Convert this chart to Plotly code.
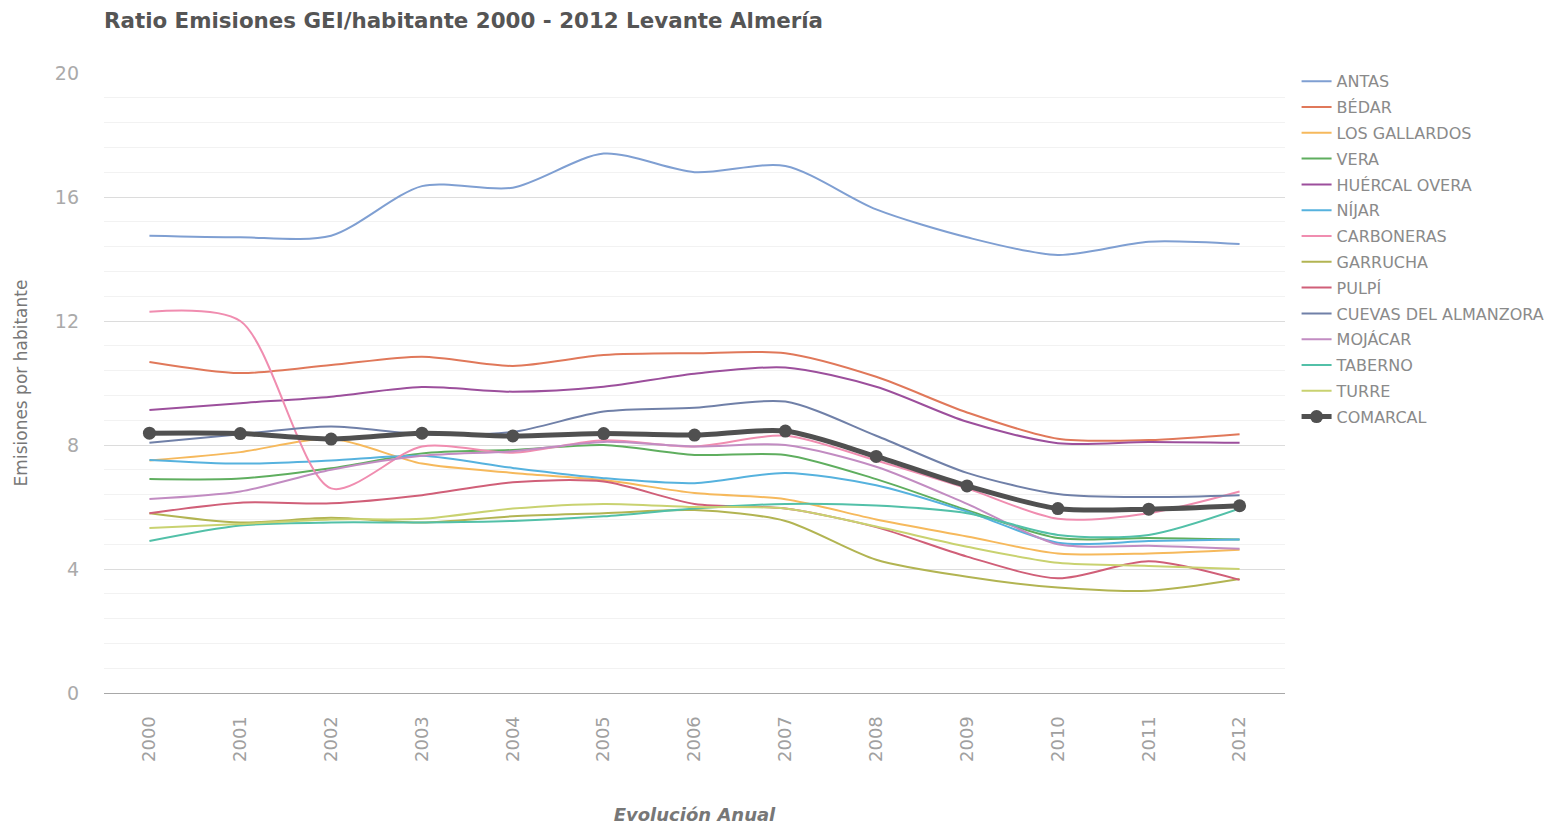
import plotly.graph_objects as go

years = ["2000", "2001", "2002", "2003", "2004", "2005", "2006",
         "2007", "2008", "2009", "2010", "2011", "2012"]

antas = [14.75, 14.7, 14.75, 16.35, 16.3, 17.4, 16.8, 17.0, 15.6, 14.7, 14.13, 14.56, 14.48]
bedar = [10.68, 10.32, 10.58, 10.85, 10.55, 10.9, 10.96, 10.96, 10.2, 9.05, 8.2, 8.16, 8.35]
los_gallardos = [7.5, 7.77, 8.2, 7.4, 7.1, 6.87, 6.45, 6.25, 5.6, 5.05, 4.5, 4.5, 4.62]
vera = [6.9, 6.92, 7.25, 7.73, 7.84, 8.0, 7.68, 7.68, 6.9, 5.9, 5.0, 5.0, 4.95]
huercal_overa = [9.13, 9.35, 9.56, 9.87, 9.72, 9.88, 10.3, 10.5, 9.88, 8.75, 8.06, 8.1, 8.07]
nijar = [7.52, 7.4, 7.5, 7.65, 7.26, 6.93, 6.77, 7.1, 6.7, 5.85, 4.85, 4.9, 4.95]
carboneras = [12.3, 12.0, 6.6, 7.95, 7.75, 8.15, 7.95, 8.3, 7.5, 6.6, 5.62, 5.8, 6.5]
garrucha = [5.8, 5.5, 5.65, 5.5, 5.7, 5.8, 5.9, 5.55, 4.3, 3.75, 3.4, 3.3, 3.68]
pulpi = [5.8, 6.14, 6.12, 6.38, 6.8, 6.82, 6.1, 5.95, 5.35, 4.4, 3.7, 4.25, 3.65]
cuevas = [8.07, 8.35, 8.6, 8.35, 8.42, 9.08, 9.2, 9.4, 8.3, 7.1, 6.42, 6.32, 6.38]
mojacar = [6.26, 6.5, 7.2, 7.65, 7.8, 8.1, 7.95, 8.0, 7.3, 6.1, 4.8, 4.75, 4.65]
taberno = [4.9, 5.4, 5.5, 5.5, 5.55, 5.7, 5.95, 6.1, 6.05, 5.8, 5.1, 5.1, 5.95]
turre = [5.32, 5.45, 5.6, 5.62, 5.95, 6.1, 6.0, 5.95, 5.37, 4.72, 4.2, 4.1, 4.0]
comarcal = [8.38, 8.37, 8.19, 8.38, 8.29, 8.37, 8.32, 8.45, 7.63, 6.68, 5.95, 5.93, 6.04]

series_names = ["ANTAS", "BÉDAR", "LOS GALLARDOS", "VERA", "HUÉRCAL OVERA", "NÍJAR",
                "CARBONERAS", "GARRUCHA", "PULPÍ", "CUEVAS DEL ALMANZORA", "MOJÁCAR",
                "TABERNO", "TURRE"]
series_values = [antas, bedar, los_gallardos, vera, huercal_overa, nijar, carboneras,
                 garrucha, pulpi, cuevas, mojacar, taberno, turre]
series_colors = ["#7f9fd2", "#e0785a", "#f6b95c", "#5fae5f", "#9c4f9c", "#56b2de",
                 "#f08db0", "#b2b452", "#d05f78", "#7080a8", "#c28cc2", "#52c0a8", "#c9d270"]

FONT = "DejaVu Sans, Verdana, sans-serif"

fig = go.Figure()
for i, (name, vals, col) in enumerate(zip(series_names, series_values, series_colors)):
    fig.add_trace(go.Scatter(
        x=years, y=vals, name=name, mode="lines", legendgroup=f"g{i}",
        line=dict(color=col, width=2, shape="spline", smoothing=0.8),
    ))

fig.add_trace(go.Scatter(
    x=years, y=comarcal, name="COMARCAL", mode="lines+markers", legendgroup="gc",
    line=dict(color="#505050", width=5, shape="spline", smoothing=0.8),
    marker=dict(color="#505050", size=13),
))

# page body has an 8px offset; plot area in screen px: x 104..1285, y 73..693
fig.update_layout(
    width=1567, height=826,
    paper_bgcolor="white", plot_bgcolor="white",
    margin=dict(l=96, r=290, t=65, b=141),
    title=dict(text="<b>Ratio Emisiones GEI/habitante 2000 - 2012 Levante Almería</b>",
               x=96 / 1567, xanchor="left", y=1 - 13 / 826, yanchor="middle",
               font=dict(family=FONT, size=21.4, color="#555555")),
    font=dict(family=FONT, color="#888888"),
    showlegend=True,
    legend=dict(
        x=1.0098, xanchor="left", y=1.014, yanchor="top",
        font=dict(family=FONT, size=16, color="#8a8a8a"),
        bgcolor="rgba(0,0,0,0)", itemwidth=30, tracegroupgap=2,
    ),
)

fig.update_xaxes(
    type="category", range=[-0.5, 12.5],
    tickangle=-90, showgrid=False,
    tickfont=dict(family=FONT, size=18, color="#a0a0a0"),
    ticklabelstandoff=15,
    showline=True, linecolor="#a8a8a8", linewidth=1,
    title=dict(text="<b><i>Evolución Anual</i></b>",
               font=dict(family=FONT, size=18, color="#777777"), standoff=47),
)

fig.update_yaxes(
    range=[0, 20], tickvals=[0, 4, 8, 12, 16, 20],
    tickfont=dict(family=FONT, size=19, color="#aaaaaa"),
    ticklabelstandoff=24,
    showgrid=True, gridcolor="#dcdcdc", gridwidth=1,
    minor=dict(dtick=0.8, showgrid=True, gridcolor="#f2f2f2", gridwidth=1),
    zeroline=False,
    title=dict(text="Emisiones por habitante",
               font=dict(family=FONT, size=17, color="#777777"), standoff=22),
)

fig.write_html("out.html")
